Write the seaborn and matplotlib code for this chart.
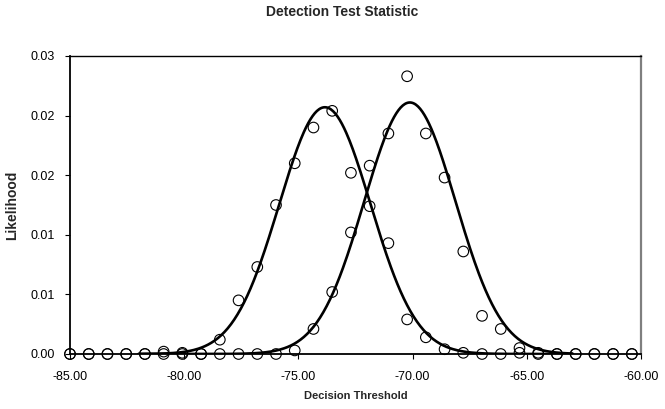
import numpy as np
import pandas as pd
import matplotlib
matplotlib.use("Agg")
import matplotlib.pyplot as plt
import seaborn as sns

# Decision threshold bins
threshold = [-85.00, -84.18, -83.36, -82.54, -81.72, -80.90, -80.08, -79.26,
             -78.44, -77.62, -76.80, -75.98, -75.16, -74.34, -73.52, -72.70,
             -71.88, -71.06, -70.24, -69.42, -68.60, -67.78, -66.96, -66.14,
             -65.32, -64.50, -63.68, -62.86, -62.04, -61.22, -60.40]

# Observed likelihoods, noise-only and signal-present
likelihood_noise = [0, 0, 0, 0, 0, 0.0002, 0.0001, 0, 0.0012, 0.0045, 0.0073,
                    0.0125, 0.0160, 0.0190, 0.0204, 0.0152, 0.0124, 0.0093,
                    0.0029, 0.0014, 0.0004, 0.0001, 0, 0, 0.0001, 0, 0, 0, 0, 0, 0]
likelihood_signal = [0, 0, 0, 0, 0, 0, 0, 0, 0, 0, 0, 0, 0.0003, 0.0021, 0.0052,
                     0.0102, 0.0158, 0.0185, 0.0233, 0.0185, 0.0148, 0.0086,
                     0.0032, 0.0021, 0.0005, 0.0001, 0, 0, 0, 0, 0]

# Gaussian fits (mean, sigma, peak height)
fit_noise = (-73.84, 2.0, 0.0207)
fit_signal = (-70.12, 2.0, 0.0211)
fit_range = (-82.0, -63.0)

x_ticks = [-85, -80, -75, -70, -65, -60]
x_tick_labels = ["-85.00", "-80.00", "-75.00", "-70.00", "-65.00", "-60.00"]
y_ticks = [0, 0.005, 0.010, 0.015, 0.020, 0.025]
y_tick_labels = ["0.00", "0.01", "0.01", "0.02", "0.02", "0.03"]

sns.set_style("white")
plt.rcParams["font.family"] = ["Liberation Sans", "DejaVu Sans"]

fig = plt.figure(figsize=(6.65, 4.09), dpi=100)
ax = fig.add_axes([70 / 665, 55 / 409, (641 - 70) / 665, (354 - 56) / 409])

points = pd.DataFrame({
    "threshold": threshold * 2,
    "likelihood": likelihood_noise + likelihood_signal,
    "series": ["noise"] * len(threshold) + ["signal"] * len(threshold),
})

xf = np.linspace(fit_range[0], fit_range[1], 400)
curves = []
for name, (mu, sd, peak) in (("noise", fit_noise), ("signal", fit_signal)):
    curves.append(pd.DataFrame({
        "threshold": xf,
        "likelihood": peak * np.exp(-(xf - mu) ** 2 / (2 * sd ** 2)),
        "series": name,
    }))
curves = pd.concat(curves, ignore_index=True)

sns.lineplot(data=curves, x="threshold", y="likelihood", units="series",
             estimator=None, color="black", linewidth=1.9, ax=ax,
             legend=False, zorder=2)
sns.scatterplot(data=points, x="threshold", y="likelihood", marker="o",
                s=58, facecolor="none", edgecolor="black", linewidth=0.8,
                ax=ax, legend=False, zorder=3, clip_on=False)

ax.set_xlim(-85, -60)
ax.set_ylim(0, 0.025)
ax.set_xticks(x_ticks)
ax.set_xticklabels(x_tick_labels)
ax.set_yticks(y_ticks)
ax.set_yticklabels(y_tick_labels)
ax.tick_params(axis="both", direction="out", length=3.5, width=0.8,
               labelsize=9, colors="black")
ax.tick_params(axis="y", pad=7.5)
ax.tick_params(axis="x", pad=9)
ax.tick_params(top=False, right=False, bottom=True, left=True)

for side in ("left", "bottom", "top"):
    ax.spines[side].set_color("black")
    ax.spines[side].set_linewidth(1.0)
ax.spines["left"].set_linewidth(1.3)
ax.spines["bottom"].set_linewidth(1.3)
ax.spines["right"].set_color("#7f7f7f")
ax.spines["right"].set_linewidth(1.6)

ax.set_xlabel("Decision Threshold", fontsize=8, fontweight="bold")
ax.xaxis.set_label_coords(0.5, -(391 - 354) / 298)
ax.set_ylabel("Likelihood", fontsize=10, fontweight="bold", va="center")
ax.yaxis.set_label_coords(-(70 - 12) / 571, 0.5)
fig.text(342 / 665, 1 - 12 / 409, "Detection Test Statistic", fontsize=10,
         fontweight="bold", ha="center", va="center")

fig.savefig("out.png", dpi=100)
